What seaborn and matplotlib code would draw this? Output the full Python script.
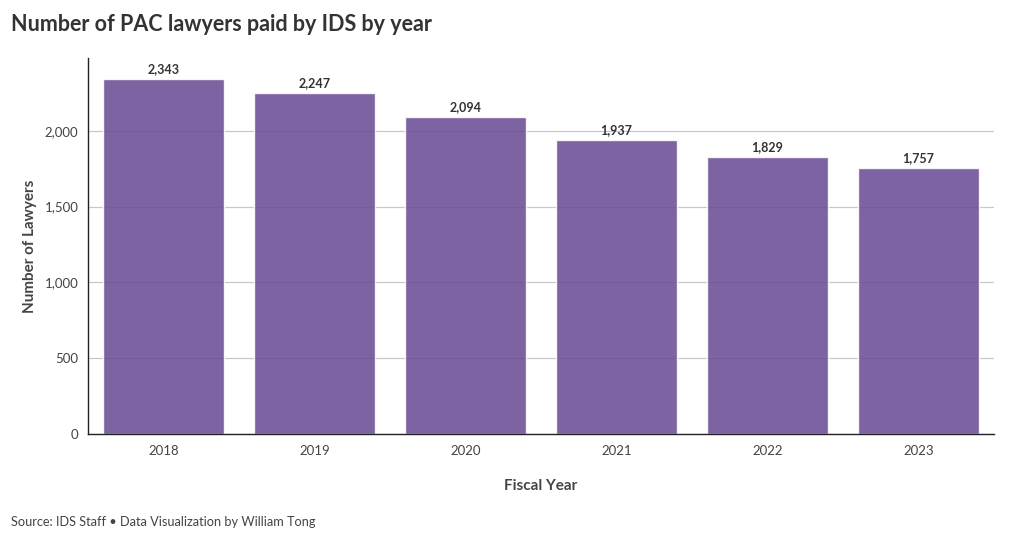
import matplotlib
matplotlib.use("Agg")
import matplotlib.pyplot as plt
import seaborn as sns
import pandas as pd

years = ["2018", "2019", "2020", "2021", "2022", "2023"]
lawyers = [2343, 2247, 2094, 1937, 1829, 1757]
yticks = [0, 500, 1000, 1500, 2000]

df = pd.DataFrame({"year": years, "lawyers": lawyers})

sns.set_style("white")
plt.rcParams["font.family"] = ["Lato", "DejaVu Sans"]

fig = plt.figure(figsize=(10.2, 5.42), dpi=100)
ax = fig.add_axes([0.0863, 0.1993, 0.8882, 0.6937])

# gridlines behind, bars slightly see-through like the original
ax.set_axisbelow(True)
ax.yaxis.grid(True, color="#c8c8c8", linewidth=0.9)
sns.barplot(data=df, x="year", y="lawyers", color="#6a4c93", alpha=0.87,
            width=0.8, saturation=1, ax=ax)

for i, v in enumerate(lawyers):
    ax.text(i, v + 25, f"{v:,}", ha="center", va="bottom", fontsize=9,
            fontweight="bold", color="#333333")

ax.set_xlim(-0.5, 5.5)
ax.set_ylim(0, 2480)
ax.set_yticks(yticks)
ax.set_yticklabels([f"{t:,}" for t in yticks])
ax.tick_params(axis="both", labelsize=9.5, colors="#444444", length=4,
               width=0.9, pad=4)
ax.tick_params(axis="x", color="#555555", pad=4)
ax.tick_params(axis="y", color="#888888", pad=3)

for s in ["top", "right"]:
    ax.spines[s].set_visible(False)
for s in ["left", "bottom"]:
    ax.spines[s].set_color("#222222")
    ax.spines[s].set_linewidth(1)

ax.set_xlabel("Fiscal Year", fontsize=11, fontweight="bold", color="#444444",
              labelpad=16)
ax.set_ylabel("Number of Lawyers", fontsize=11, fontweight="bold",
              color="#444444", labelpad=5)

fig.text(0.011, 0.955, "Number of PAC lawyers paid by IDS by year",
         fontsize=15.5, fontweight="bold", color="#333333", va="center")
fig.text(0.011, 0.037, "Source: IDS Staff \u2022 Data Visualization by William Tong",
         fontsize=9.2, color="#444444", va="center")

fig.savefig("out.png", dpi=100)
